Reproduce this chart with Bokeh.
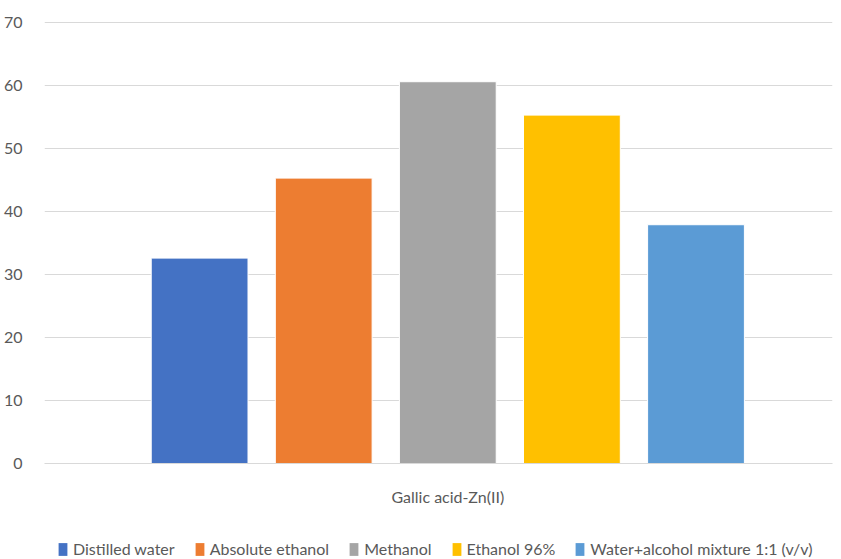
from bokeh.plotting import figure
from bokeh.layouts import column
from bokeh.models import ColumnDataSource, Legend, LegendItem, FixedTicker, Range1d
from bokeh.embed import file_html
from bokeh.resources import INLINE

# Solvent series for the Gallic acid-Zn(II) complex
category = "Gallic acid-Zn(II)"
solvents = ["Distilled water", "Absolute ethanol", "Methanol", "Ethanol 96%",
            "Water+alcohol mixture 1:1 (v/v)"]
values = [32.6, 45.3, 60.6, 55.3, 37.9]
colors = ["#4472C4", "#ED7D31", "#A5A5A5", "#FFC000", "#5B9BD5"]
y_ticks = [0, 10, 20, 30, 40, 50, 60, 70]

FONT = "Lato"
FONT_SIZE = "16px"
TEXT_COLOR = "#595959"
GRID_COLOR = "#D9D9D9"

p = figure(width=841, height=525, output_backend="svg", toolbar_location=None,
           x_range=Range1d(-3.25, 3.1), y_range=Range1d(0, 70.16))
p.min_border_left = 44
p.min_border_right = 9
p.min_border_top = 21
p.min_border_bottom = 62
p.outline_line_color = None
p.background_fill_color = "white"
p.border_fill_color = "white"

# one clustered group: series offsets around the category centre
n = len(solvents)
offsets = [i - (n - 1) / 2 for i in range(n)]
for off, val, col in zip(offsets, values, colors):
    src = ColumnDataSource(dict(x=[off], top=[val]))
    p.vbar(x="x", top="top", width=0.78, source=src,
           fill_color=col, line_color="white", line_width=1)

# axes
p.xaxis.ticker = FixedTicker(ticks=[0])
p.xaxis.major_label_overrides = {0: category}
p.xaxis.major_tick_line_color = None
p.xaxis.minor_tick_line_color = None
p.xaxis.axis_line_color = GRID_COLOR
p.xaxis.axis_line_width = 1
p.xaxis.major_label_standoff = 17
p.xaxis.major_label_text_font = FONT
p.xaxis.major_label_text_font_size = FONT_SIZE
p.xaxis.major_label_text_color = TEXT_COLOR

p.yaxis.ticker = FixedTicker(ticks=y_ticks)
p.yaxis.axis_line_color = None
p.yaxis.major_tick_line_color = None
p.yaxis.minor_tick_line_color = None
p.yaxis.major_label_standoff = 16
p.yaxis.major_label_text_font = FONT
p.yaxis.major_label_text_font_size = FONT_SIZE
p.yaxis.major_label_text_color = TEXT_COLOR

p.xgrid.grid_line_color = None
p.ygrid.grid_line_color = GRID_COLOR
p.ygrid.grid_line_width = 1

# legend strip beneath the chart (its frame lines up with the chart's frame);
# the swatch renderers sit outside the visible range
leg_fig = figure(width=841, height=34, output_backend="svg", toolbar_location=None,
                 x_axis_type=None, y_axis_type=None,
                 x_range=Range1d(0, 1), y_range=Range1d(0, 1))
leg_fig.min_border_left = 0
leg_fig.min_border_right = 0
leg_fig.min_border_top = 0
leg_fig.min_border_bottom = 0
leg_fig.outline_line_color = None
leg_fig.xgrid.grid_line_color = None
leg_fig.ygrid.grid_line_color = None

items = []
for name, col in zip(solvents, colors):
    r = leg_fig.vbar(x=[-5], top=[-5], width=0.5, fill_color=col, line_color=None)
    items.append(LegendItem(label=name, renderers=[r]))

legend = Legend(items=items, orientation="horizontal", location=(13, 1))
legend.border_line_color = None
legend.background_fill_alpha = 0
legend.padding = 0
legend.margin = 0
legend.spacing = 19
legend.glyph_width = 11
legend.glyph_height = 16
legend.label_standoff = 5
legend.label_height = 16
legend.label_text_font = FONT
legend.label_text_font_size = FONT_SIZE
legend.label_text_color = TEXT_COLOR
legend.label_text_baseline = "middle"
leg_fig.add_layout(legend, "center")

layout = column(p, leg_fig, spacing=0)
open("out.html", "w").write(file_html(layout, INLINE))
